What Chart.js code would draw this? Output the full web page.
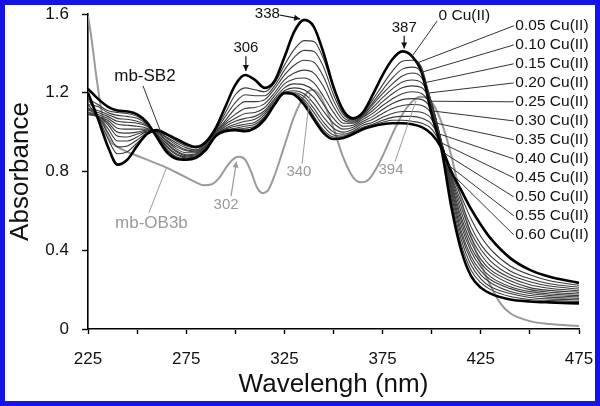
<!DOCTYPE html>
<html><head><meta charset="utf-8">
<script src="https://cdn.jsdelivr.net/npm/chart.js@4.4.1/dist/chart.umd.min.js"></script>
<style>
html,body{margin:0;padding:0;background:#fff;}
#frame{width:600px;height:406px;box-sizing:border-box;border:5px solid #1414e6;background:#fff;}
canvas{display:block;}
</style></head><body>
<div id="frame"><canvas id="c" width="590" height="396"></canvas></div>
<script>
// ---- data ----
const wavelengths = [225,230,235,240,245,250,255,260,265,270,275,280,285,290,295,300,305,310,315,320,325,330,335,340,345,350,355,360,365,370,375,380,385,390,395,400,405,410,415,420,425,430,440,450,460,475];
const cuLabels = ['0 Cu(II)','0.05 Cu(II)','0.10 Cu(II)','0.15 Cu(II)','0.20 Cu(II)','0.25 Cu(II)','0.30 Cu(II)','0.35 Cu(II)','0.40 Cu(II)','0.45 Cu(II)','0.50 Cu(II)','0.55 Cu(II)','0.60 Cu(II)'];
const abs000 = [1.20,1.07,0.93,0.835,0.86,0.93,0.99,1.01,0.99,0.965,0.94,0.925,0.95,1.02,1.13,1.24,1.29,1.265,1.225,1.26,1.38,1.51,1.57,1.535,1.40,1.23,1.11,1.07,1.10,1.19,1.29,1.37,1.41,1.385,1.30,1.09,0.91,0.62,0.40,0.27,0.21,0.18,0.15,0.14,0.135,0.13];
const abs005 = [1.17,1.08,0.97,0.89,0.90,0.945,0.99,1.005,0.985,0.955,0.93,0.92,0.945,1.01,1.10,1.19,1.225,1.215,1.205,1.25,1.34,1.42,1.465,1.46,1.37,1.22,1.10,1.065,1.095,1.165,1.24,1.31,1.36,1.365,1.325,1.13,0.925,0.64,0.43,0.30,0.235,0.20,0.165,0.15,0.145,0.14];
const abs010 = [1.14,1.08,1.00,0.925,0.93,0.96,0.995,1.005,0.975,0.945,0.92,0.91,0.94,1.005,1.08,1.15,1.19,1.185,1.185,1.235,1.315,1.38,1.415,1.41,1.33,1.19,1.09,1.06,1.09,1.15,1.215,1.275,1.32,1.33,1.30,1.145,0.935,0.66,0.455,0.325,0.255,0.215,0.18,0.16,0.153,0.148];
const abs015 = [1.12,1.08,1.02,0.955,0.955,0.975,1.00,1.00,0.97,0.935,0.91,0.905,0.935,1.00,1.06,1.12,1.155,1.155,1.165,1.22,1.29,1.34,1.365,1.355,1.28,1.16,1.075,1.055,1.085,1.14,1.195,1.245,1.285,1.30,1.275,1.15,0.94,0.68,0.48,0.35,0.275,0.235,0.19,0.17,0.162,0.155];
const abs020 = [1.10,1.08,1.04,0.98,0.975,0.99,1.005,1.00,0.96,0.925,0.905,0.90,0.93,0.995,1.05,1.09,1.12,1.125,1.145,1.20,1.265,1.30,1.315,1.30,1.23,1.13,1.06,1.05,1.08,1.125,1.175,1.22,1.255,1.265,1.25,1.145,0.945,0.70,0.50,0.37,0.295,0.25,0.205,0.18,0.17,0.163];
const abs025 = [1.09,1.08,1.05,1.00,0.995,1.00,1.01,0.995,0.955,0.915,0.895,0.895,0.93,0.99,1.04,1.07,1.095,1.10,1.125,1.185,1.245,1.27,1.275,1.25,1.18,1.10,1.045,1.045,1.075,1.11,1.155,1.195,1.225,1.235,1.225,1.14,0.95,0.715,0.525,0.395,0.315,0.265,0.215,0.19,0.178,0.17];
const abs030 = [1.09,1.08,1.06,1.02,1.015,1.015,1.015,0.99,0.945,0.905,0.885,0.89,0.925,0.985,1.03,1.055,1.07,1.08,1.11,1.17,1.225,1.245,1.24,1.21,1.14,1.07,1.03,1.035,1.065,1.095,1.135,1.17,1.195,1.205,1.195,1.125,0.95,0.73,0.55,0.415,0.335,0.285,0.23,0.20,0.187,0.178];
const abs035 = [1.10,1.09,1.07,1.04,1.035,1.03,1.02,0.99,0.94,0.90,0.88,0.885,0.92,0.985,1.02,1.04,1.055,1.065,1.10,1.16,1.21,1.225,1.215,1.175,1.105,1.045,1.015,1.025,1.055,1.08,1.115,1.145,1.165,1.17,1.165,1.11,0.95,0.745,0.57,0.44,0.355,0.30,0.245,0.21,0.196,0.186];
const abs040 = [1.11,1.10,1.08,1.055,1.05,1.045,1.03,0.985,0.93,0.89,0.875,0.88,0.92,0.98,1.015,1.03,1.04,1.05,1.09,1.15,1.20,1.21,1.195,1.145,1.075,1.02,1.00,1.015,1.045,1.065,1.095,1.12,1.135,1.14,1.135,1.09,0.95,0.76,0.595,0.465,0.38,0.32,0.26,0.225,0.207,0.194];
const abs045 = [1.12,1.11,1.09,1.07,1.065,1.055,1.035,0.985,0.925,0.885,0.87,0.875,0.915,0.98,1.01,1.02,1.03,1.04,1.08,1.145,1.195,1.20,1.18,1.12,1.05,1.00,0.99,1.005,1.035,1.05,1.075,1.095,1.105,1.105,1.10,1.065,0.945,0.77,0.62,0.49,0.405,0.345,0.275,0.24,0.218,0.203];
const abs050 = [1.14,1.13,1.10,1.085,1.08,1.07,1.04,0.98,0.915,0.875,0.865,0.875,0.915,0.98,1.01,1.015,1.02,1.03,1.075,1.14,1.195,1.195,1.165,1.10,1.03,0.985,0.98,1.00,1.025,1.04,1.06,1.075,1.08,1.08,1.07,1.04,0.94,0.78,0.645,0.52,0.43,0.37,0.295,0.255,0.23,0.212];
const abs055 = [1.17,1.14,1.11,1.10,1.095,1.08,1.045,0.98,0.91,0.87,0.86,0.87,0.91,0.98,1.005,1.01,1.01,1.025,1.07,1.14,1.195,1.19,1.155,1.08,1.01,0.975,0.975,0.995,1.02,1.035,1.05,1.06,1.06,1.055,1.045,1.015,0.93,0.79,0.675,0.56,0.47,0.405,0.32,0.275,0.245,0.222];
const abs060 = [1.22,1.17,1.13,1.11,1.105,1.09,1.05,0.975,0.90,0.865,0.86,0.87,0.91,0.98,1.005,1.01,1.005,1.02,1.065,1.14,1.20,1.19,1.14,1.065,0.995,0.965,0.97,0.99,1.015,1.03,1.04,1.045,1.045,1.04,1.025,0.99,0.92,0.80,0.705,0.61,0.53,0.46,0.36,0.30,0.265,0.234];
const cuSeries = [abs000,abs005,abs010,abs015,abs020,abs025,abs030,abs035,abs040,abs045,abs050,abs055,abs060];

const wavelengthsOB3b = [225,226,227,228,229,230,231,233,236,240,245,250,255,260,265,270,275,280,284,288,292,296,300,302,305,308,311,314,317,320,325,330,335,339,342,345,350,355,360,364,368,372,376,380,385,390,394,398,402,406,410,415,420,425,430,435,440,450,460,475];
const absOB3b = [1.59,1.53,1.46,1.38,1.30,1.23,1.16,1.05,0.96,0.925,0.90,0.88,0.86,0.84,0.82,0.795,0.77,0.745,0.73,0.735,0.77,0.83,0.87,0.875,0.86,0.80,0.72,0.69,0.71,0.78,0.93,1.08,1.18,1.215,1.20,1.15,1.02,0.87,0.77,0.745,0.76,0.82,0.90,0.99,1.09,1.155,1.18,1.17,1.12,1.02,0.88,0.66,0.47,0.33,0.22,0.13,0.08,0.04,0.025,0.015];

const xTickLabels = [225,275,325,375,425,475];
const yTickLabels = ['0','0.4','0.8','1.2','1.6'];
const yTickValues = [0,0.4,0.8,1.2,1.6];

// ---- style / layout ----
const FONT = "'Liberation Sans', Arial, Helvetica, sans-serif";
const INK = '#111111';
const GRAY = '#9a9a9a';

function interp(xs, ys, v){
  for(let i=0;i<xs.length-1;i++){
    if(v>=xs[i] && v<=xs[i+1]){ const t=(v-xs[i])/(xs[i+1]-xs[i]); return ys[i]+t*(ys[i+1]-ys[i]); }
  }
  return ys[ys.length-1];
}

const datasets = [];
cuSeries.forEach((s,i)=>{
  const thick = (i===0 || i===cuSeries.length-1);
  datasets.push({
    label: cuLabels[i],
    data: wavelengths.map((w,k)=>({x:w,y:s[k]})),
    borderColor: thick ? '#000000' : '#3a3a3a',
    borderWidth: thick ? 2.6 : 1.1,
    pointRadius: 0,
    cubicInterpolationMode: 'monotone',
    fill: false,
    order: thick ? 0 : 1
  });
});
datasets.push({
  label: 'mb-OB3b',
  data: wavelengthsOB3b.map((w,k)=>({x:w,y:absOB3b[k]})),
  borderColor: GRAY,
  borderWidth: 2,
  pointRadius: 0,
  cubicInterpolationMode: 'monotone',
  fill: false,
  order: 2
});

// annotation placement (in data units)
const peakNotes = [
  {text:'338', at:[316.3,1.60], from:[322.5,1.595], to:[333.0,1.575]},
  {text:'306', at:[305.4,1.428], from:[305.4,1.385], to:[305.4,1.31]},
  {text:'387', at:[386.0,1.53], from:[386.0,1.49], to:[386.0,1.425]}
];
const rightAnchorsNm = [392,394.5,396,397.5,399,400.5,402,403.5,405,406.5,408.5,411];
const rightLabelA = [1.54,1.443,1.347,1.25,1.154,1.057,0.961,0.864,0.768,0.671,0.575,0.478];

const annot = {
  id:'annot',
  afterDatasetsDraw(chart){
    const {ctx, scales:{x,y}} = chart;
    const X = v=>x.getPixelForValue(v), Y = v=>y.getPixelForValue(v);
    ctx.save();
    const line = (x1,y1,x2,y2,col,w)=>{ctx.strokeStyle=col;ctx.lineWidth=w||1;ctx.beginPath();ctx.moveTo(x1,y1);ctx.lineTo(x2,y2);ctx.stroke();};
    const head = (x1,y1,x2,y2,col)=>{
      const a=Math.atan2(y2-y1,x2-x1), L=6, W=3;
      ctx.fillStyle=col; ctx.beginPath(); ctx.moveTo(x2,y2);
      ctx.lineTo(x2-L*Math.cos(a)+W*Math.sin(a), y2-L*Math.sin(a)-W*Math.cos(a));
      ctx.lineTo(x2-L*Math.cos(a)-W*Math.sin(a), y2-L*Math.sin(a)+W*Math.cos(a));
      ctx.closePath(); ctx.fill();
    };
    const txt = (t,xx,yy,col,size,align)=>{ctx.fillStyle=col;ctx.font=size+'px '+FONT;ctx.textAlign=align||'center';ctx.textBaseline='middle';ctx.fillText(t,xx,yy);};

    peakNotes.forEach(n=>{
      txt(n.text, X(n.at[0]), Y(n.at[1]), INK, 15);
      const x1=X(n.from[0]), y1=Y(n.from[1]), x2=X(n.to[0]), y2=Y(n.to[1]);
      line(x1,y1,x2,y2,INK,1.2); head(x1,y1,x2,y2,INK);
    });

    txt('mb-SB2', X(254), Y(1.285), INK, 17);
    line(X(253), Y(1.235), X(262), Y(interp(wavelengths,abs000,262)), '#333', 1);

    txt(cuLabels[0], X(403.5), Y(1.59), INK, 15.5, 'left');
    line(X(402.8), Y(1.565), X(390), Y(interp(wavelengths,abs000,390)), '#333', 1);

    for(let i=1;i<cuSeries.length;i++){
      const ly = Y(rightLabelA[i-1]);
      txt(cuLabels[i], X(442.6), ly, INK, 15.5, 'left');
      const nm = rightAnchorsNm[i-1];
      line(X(441.8), ly, X(nm), Y(interp(wavelengths,cuSeries[i],nm)), '#333', 1);
    }

    txt('mb-OB3b', X(257.3), Y(0.538), GRAY, 17);
    line(X(256), Y(0.59), X(265), Y(interp(wavelengthsOB3b,absOB3b,265)), GRAY, 1);
    txt('302', X(295.3), Y(0.63), GRAY, 15);
    line(X(297.8), Y(0.675), X(300.6), Y(0.85), GRAY, 1.2); head(X(297.8), Y(0.675), X(300.6), Y(0.85), GRAY);
    txt('340', X(332.4), Y(0.797), GRAY, 15);
    line(X(334), Y(0.84), X(338), Y(1.19), GRAY, 1);
    txt('394', X(379.3), Y(0.807), GRAY, 15);
    line(X(381.3), Y(0.85), X(392), Y(1.16), GRAY, 1);
    ctx.restore();
  }
};

new Chart(document.getElementById('c'), {
  type:'line',
  data:{datasets},
  plugins:[annot],
  options:{
    responsive:false,
    animation:false,
    layout:{padding:{left:0,right:16,top:9,bottom:0}},
    plugins:{legend:{display:false}, tooltip:{enabled:false}},
    elements:{point:{radius:0}},
    scales:{
      x:{
        type:'linear', min:225, max:475,
        border:{display:true,color:'#000',width:1.6},
        grid:{drawOnChartArea:false, drawTicks:true, tickLength:5, color:'#000', tickWidth:1.4},
        ticks:{stepSize:25, autoSkip:false, maxRotation:0, padding:15, color:INK,
               font:{family:FONT,size:17},
               callback:v=> xTickLabels.includes(v) ? String(v) : ''},
        title:{display:true, text:'Wavelengh (nm)', color:INK, font:{family:FONT,size:26}, padding:{top:0,bottom:1}},
        afterFit(s){ s.height = 72; s.paddingLeft = 0; s.paddingRight = 0; s.paddingTop = 0; s.paddingBottom = 0; }
      },
      y:{
        min:0, max:1.6,
        border:{display:true,color:'#000',width:1.6},
        grid:{drawOnChartArea:false, drawTicks:true, tickLength:6, color:'#000', tickWidth:1.4},
        ticks:{stepSize:0.4, padding:13, color:INK, font:{family:FONT,size:17},
               callback:v=>{ const k=yTickValues.findIndex(t=>Math.abs(t-v)<1e-6); return k>=0 ? yTickLabels[k] : ''; }},
        title:{display:true, text:'Absorbance', color:INK, font:{family:FONT,size:26}, padding:{top:0,bottom:0}},
        afterFit(s){ s.width = 83; s.paddingLeft = 0; s.paddingRight = 0; s.paddingTop = 0; s.paddingBottom = 0; }
      }
    }
  }
});
</script>
</body></html>
